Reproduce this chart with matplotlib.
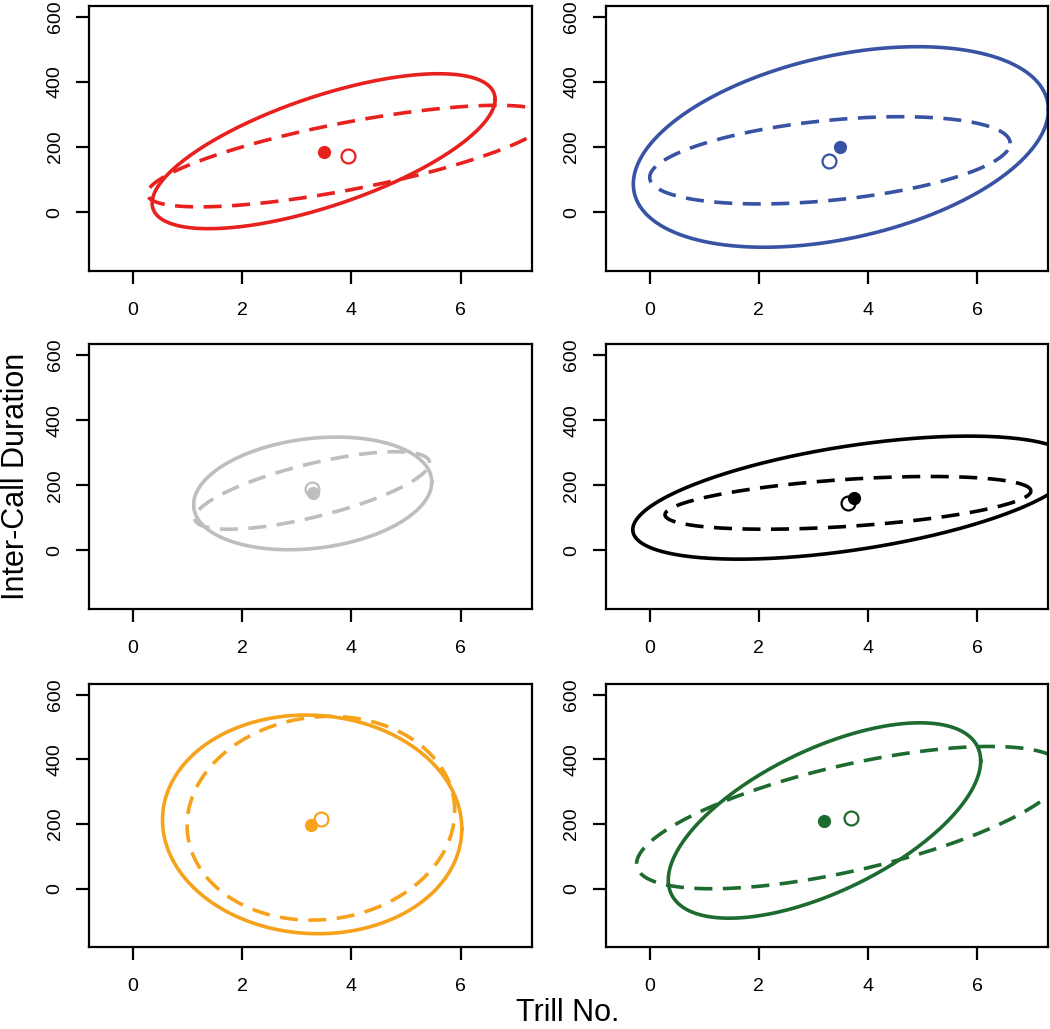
#!/usr/bin/env python3
"""Trill number vs inter-call duration: 95% ellipses for six groups."""

import matplotlib

matplotlib.use("Agg")
import matplotlib.pyplot as plt
import numpy as np

plt.rcParams["font.family"] = ["Liberation Sans", "DejaVu Sans"]

COLORS = ["#E8211F", "#3953A4", "#BEBEBE", "#000000", "#F7A21B", "#1D6B2F"]

# solid ellipse: centre, half-extent in x and y, correlation
solid_cx = [3.49, 3.50, 3.29, 3.74, 3.28, 3.20]
solid_cy = [187, 200, 175, 162, 199, 211]
solid_ax = [3.14, 3.80, 2.18, 4.05, 2.74, 2.86]
solid_by = [238, 308, 173, 189, 338, 302]
solid_rho = [0.67, 0.37, 0.20, 0.52, -0.04, 0.61]

# dashed ellipse
dashed_cx = [3.94, 3.30, 3.28, 3.63, 3.44, 3.68]
dashed_cy = [172, 159, 184, 146, 218, 220]
dashed_ax = [3.68, 3.30, 2.15, 3.35, 2.45, 3.92]
dashed_by = [156, 134, 119, 81, 315, 220]
dashed_rho = [0.74, 0.39, 0.71, 0.45, 0.07, 0.65]

# group means
filled_x = [3.50, 3.48, 3.29, 3.74, 3.26, 3.20]
filled_y = [185, 200, 176, 162, 198, 209]
open_x = [3.94, 3.29, 3.27, 3.63, 3.45, 3.68]
open_y = [172, 158, 188, 147, 215, 219]

X_TICKS = [0, 2, 4, 6]
Y_TICKS = [0, 200, 400, 600]


def ellipse_xy(cx, cy, ax_, by, rho, n=300):
    t = np.linspace(0, 2 * np.pi, n)
    return cx + ax_ * np.cos(t), cy + by * np.cos(t - np.arccos(rho))


fig = plt.figure(figsize=(10.5, 10.29), dpi=100)
W, H = 1050, 1029
col_left = [89.3, 606.0]
col_width = 442.4
row_top = [6.0, 344.3, 684.0]
row_bottom = [271.0, 609.3, 947.3]

for i, color in enumerate(COLORS):
    r, c = divmod(i, 2)
    rect = [
        col_left[c] / W,
        1 - row_bottom[r] / H,
        col_width / W,
        (row_bottom[r] - row_top[r]) / H,
    ]
    ax = fig.add_axes(rect)
    sx, sy = ellipse_xy(solid_cx[i], solid_cy[i], solid_ax[i], solid_by[i], solid_rho[i])
    ax.plot(sx, sy, color=color, lw=2.6)
    dx, dy = ellipse_xy(dashed_cx[i], dashed_cy[i], dashed_ax[i], dashed_by[i], dashed_rho[i])
    ax.plot(dx, dy, color=color, lw=2.6, linestyle=(0, (5.0, 2.9)))
    ax.plot(open_x[i], open_y[i], "o", ms=10, mfc="white", mec=color, mew=1.6)
    ax.plot(filled_x[i], filled_y[i], "o", ms=8.5, color=color, mec=color)

    ax.set_xlim(-0.80, 7.30)
    ax.set_ylim(-181, 633)
    ax.set_xticks(X_TICKS)
    ax.set_yticks(Y_TICKS)
    for spine in ax.spines.values():
        spine.set_linewidth(1.6)
    ax.tick_params(axis="both", direction="out", length=9.4, width=1.6, labelsize=14)
    ax.tick_params(axis="x", pad=13)
    ax.tick_params(axis="y", pad=9)
    for label in ax.get_yticklabels():
        label.set_rotation(90)
        label.set_va("center")

fig.text(23.7 / W, 1 - 476.5 / H, "Inter-Call Duration", rotation=90,
         rotation_mode="anchor", ha="center", va="baseline", fontsize=22)
fig.text(568 / W, 0.008, "Trill No.", ha="center", va="baseline", fontsize=22)

fig.savefig("out.png", dpi=100)
